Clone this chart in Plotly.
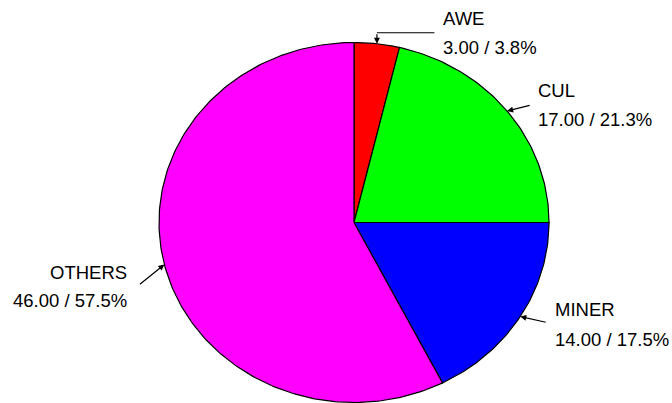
import numpy as np
import plotly.graph_objects as go

labels = ['AWE', 'CUL', 'MINER', 'OTHERS']
values = [3.0, 17.0, 14.0, 46.0]
colors = ['#ff0000', '#00ff00', '#0000ff', '#ff00ff']

# label placement (pixels, relative to the slice's edge point)
arrow_tail = [(0, -11), (24, -6), (27, 6), (-26, 21)]
text_shift = [(64, 25, -3.5), (29, 21, -8), (33, 7.5, -22.5), (-35, -7.5, -35.5)]
text_side = ['left', 'left', 'left', 'right']

FONT = dict(family='Liberation Sans, Arial, sans-serif', size=18.5, color='#000000')

W, H = 672, 403
CX, CY = 354, 222.5      # pie centre in pixels
RX, RY = 195, 180        # ellipse radii in pixels

total = sum(values)
fig = go.Figure()
annotations = []
start = 0.0
for i, (lab, val, col) in enumerate(zip(labels, values, colors)):
    frac = val / total
    th = np.linspace(start, start + frac, max(int(frac * 400), 4)) * 2 * np.pi
    xs = np.concatenate([[0], np.sin(th), [0]])
    ys = np.concatenate([[0], np.cos(th), [0]])
    fig.add_trace(go.Scatter(
        x=xs, y=ys, mode='lines', fill='toself', fillcolor=col,
        line=dict(color='#000000', width=1.2), hoverinfo='skip', showlegend=False,
    ))
    mid = (start + frac / 2) * 2 * np.pi
    hx, hy = np.sin(mid), np.cos(mid)
    ax, ay = arrow_tail[i]
    annotations.append(dict(
        x=hx, y=hy, ax=ax, ay=ay, text='', showarrow=True,
        arrowhead=2, arrowsize=1, arrowwidth=1.2, arrowcolor='#000000', standoff=0,
    ))
    if i == 0:
        # elbow leader for the small slice
        annotations.append(dict(
            x=hx, y=hy, yshift=-ay, ax=59, ay=0, text='', showarrow=True,
            arrowhead=0, arrowwidth=1.2, arrowcolor='#000000',
        ))
    dx, dy1, dy2 = text_shift[i]
    pct = round(frac * 100 + 1e-9, 1)
    for txt, dy in ((lab, dy1), (f'{val:.2f} / {pct:.1f}%', dy2)):
        annotations.append(dict(
            x=hx, y=hy, xshift=dx, yshift=dy, text=txt, showarrow=False,
            xanchor=text_side[i], yanchor='middle', font=FONT,
        ))
    start += frac

fig.update_layout(
    width=W, height=H, autosize=False,
    margin=dict(l=0, r=0, t=0, b=0),
    paper_bgcolor='white', plot_bgcolor='white',
    xaxis=dict(range=[-CX / RX, (W - CX) / RX], visible=False, fixedrange=True),
    yaxis=dict(range=[-(H - CY) / RY, CY / RY], visible=False, fixedrange=True),
    annotations=annotations,
    showlegend=False,
)

# drop the page's default body margin so the figure fills the window
fig.write_html('out.html', config={'displayModeBar': False},
               post_script="document.body.style.margin='0';")
